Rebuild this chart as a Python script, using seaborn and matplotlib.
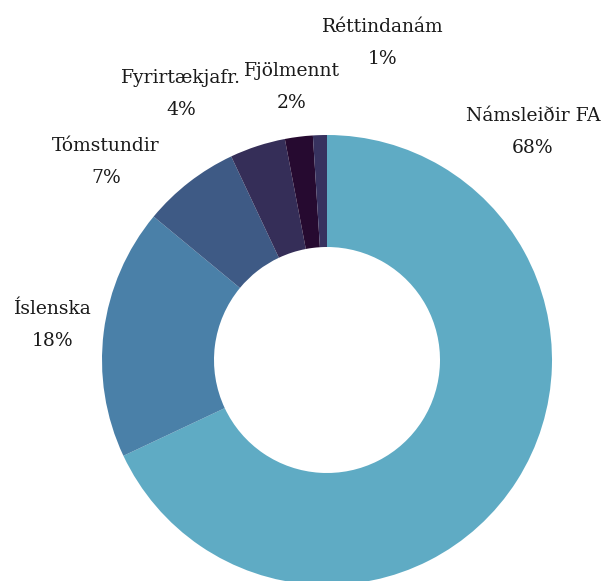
import matplotlib
matplotlib.use('Agg')
import matplotlib.pyplot as plt
import seaborn as sns

# gögn
flokkar = ['Námsleiðir FA', 'Íslenska', 'Tómstundir', 'Fyrirtækjafr.', 'Fjölmennt', 'Réttindanám']
hlutfall = [68, 18, 7, 4, 2, 1]
litir = ['#5fabc4', '#4a80a8', '#3e5a85', '#352e58', '#260a30', '#37325f']

# staðsetning merkja (miðja nafns, pixlar frá vinstri/neðst)
merki_xy = [(533, 465), (53, 272), (106, 435), (181, 503), (292, 510), (383, 554)]

sns.set_theme(style='white')
plt.rcParams['font.family'] = ['DejaVu Serif']

fig = plt.figure(figsize=(6.05, 5.81), dpi=100)
ax = fig.add_axes([0, 0, 1, 1])

ax.pie(hlutfall, colors=litir, startangle=90, counterclock=False,
       center=(327, 221), radius=225, frame=True,
       wedgeprops=dict(width=112, linewidth=0))
ax.set_xlim(0, 605)
ax.set_ylim(0, 581)
ax.set_aspect('equal')
ax.axis('off')

for nafn, pct, (x, y) in zip(flokkar, hlutfall, merki_xy):
    ax.text(x, y, nafn, ha='center', va='center', fontsize=13.5, color='#1a1a1a')
    ax.text(x, y - 32, f'{pct}%', ha='center', va='center', fontsize=13.5, color='#1a1a1a')

fig.savefig('out.png', dpi=100)
